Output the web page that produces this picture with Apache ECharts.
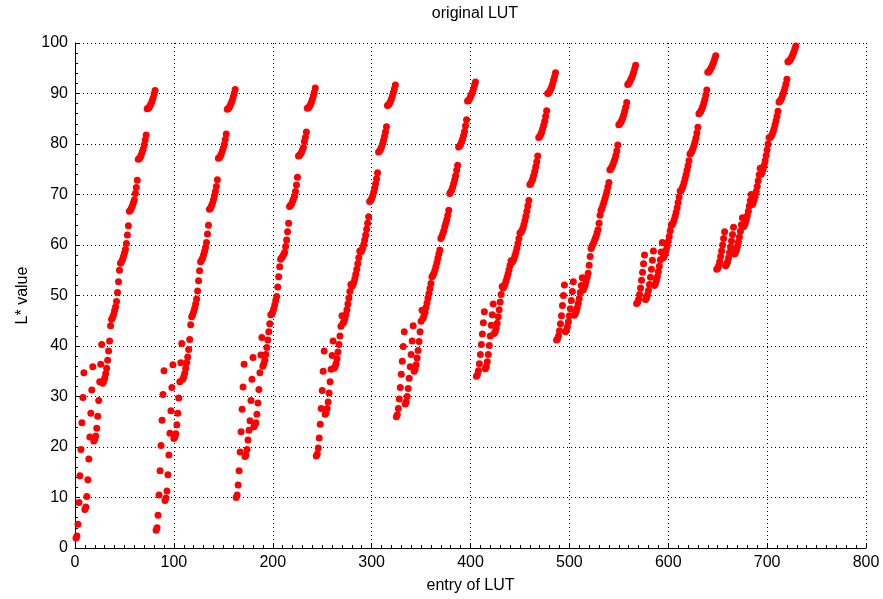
<!DOCTYPE html>
<html>
<head>
<meta charset="utf-8">
<title>original LUT</title>
<script src="https://cdn.jsdelivr.net/npm/echarts@6.0.0/dist/echarts.min.js"></script>
<style>
html,body{margin:0;padding:0;background:#fff;}
#chart{width:883px;height:599px;}
</style>
</head>
<body>
<div id="chart"></div>
<script>
'use strict';
// L*, one array per block of 81 LUT entries (9 rows of 9)
var block1 = [
  2.0, 2.4, 4.7, 9.0, 14.3, 19.5, 24.8, 29.8, 34.7,
  7.6, 8.1, 10.2, 13.5, 17.6, 22.0, 26.7, 31.3, 35.9,
  21.2, 21.6, 22.2, 23.7, 26.1, 29.2, 32.9, 36.4, 40.3,
  32.6, 33.0, 33.6, 34.5, 35.6, 37.2, 39.0, 41.0, 44.0,
  45.3, 45.7, 46.2, 47.0, 47.7, 48.8, 50.6, 52.7, 55.0,
  56.4, 56.7, 57.1, 57.7, 58.4, 59.1, 60.3, 62.0, 63.8,
  66.7, 66.9, 67.3, 67.7, 68.3, 68.9, 70.2, 71.4, 72.8,
  77.0, 77.1, 77.4, 77.8, 78.4, 79.0, 79.8, 80.8, 81.8,
  87.0, 87.1, 87.3, 87.6, 88.0, 88.5, 89.1, 89.9, 90.6
];
var block2 = [
  3.5, 4.0, 6.5, 10.5, 15.3, 20.3, 25.3, 30.4, 35.1,
  9.4, 9.9, 11.3, 14.5, 18.4, 22.7, 27.2, 31.8, 36.3,
  21.7, 22.0, 22.6, 24.4, 26.7, 29.7, 32.9, 36.7, 40.5,
  33.4, 33.9, 34.6, 35.6, 36.7, 37.8, 39.3, 41.3, 44.2,
  45.8, 46.2, 46.8, 47.5, 48.3, 49.3, 50.9, 52.9, 54.9,
  56.7, 57.0, 57.4, 58.0, 58.7, 59.5, 60.5, 62.2, 63.9,
  67.1, 67.3, 67.7, 68.2, 68.9, 69.7, 70.6, 71.6, 72.9,
  77.2, 77.3, 77.6, 78.0, 78.6, 79.2, 79.9, 80.9, 82.0,
  86.9, 87.0, 87.3, 87.6, 88.1, 88.6, 89.3, 90.0, 90.8
];
var block3 = [
  10.0, 10.5, 12.5, 15.3, 19.0, 23.0, 27.5, 31.9, 36.4,
  18.1, 18.4, 19.5, 21.4, 23.3, 25.2, 29.2, 33.4, 37.7,
  24.0, 24.4, 24.8, 26.5, 28.7, 31.4, 34.7, 38.2, 41.7,
  36.0, 36.5, 37.2, 38.3, 39.7, 41.2, 42.8, 44.4, 46.2,
  46.3, 46.8, 47.4, 48.1, 49.0, 49.8, 51.7, 53.7, 55.7,
  57.2, 57.5, 57.7, 58.1, 58.5, 59.7, 61.0, 62.6, 64.3,
  67.6, 67.8, 68.1, 68.6, 69.1, 69.6, 70.6, 71.9, 73.4,
  77.6, 77.7, 78.0, 78.3, 78.8, 79.3, 80.5, 81.3, 82.4,
  87.1, 87.2, 87.4, 87.7, 88.2, 88.8, 89.5, 90.2, 91.1
];
var block4 = [
  18.2, 18.6, 19.8, 21.8, 24.5, 27.6, 31.2, 35.0, 39.0,
  26.5, 26.8, 27.6, 28.9, 30.7, 32.9, 35.4, 38.1, 41.0,
  35.6, 35.9, 36.5, 37.5, 38.8, 40.3, 42.0, 43.9, 46.0,
  44.5, 44.8, 45.4, 46.2, 47.2, 48.3, 49.5, 50.8, 52.2,
  51.8, 52.1, 52.6, 53.3, 54.2, 55.2, 56.3, 57.5, 58.8,
  58.6, 58.9, 59.4, 60.1, 61.0, 62.0, 63.1, 64.3, 65.6,
  68.6, 68.8, 69.2, 69.7, 70.4, 71.2, 72.1, 73.1, 74.3,
  78.4, 78.6, 78.9, 79.4, 80.0, 80.7, 81.5, 82.4, 83.4,
  87.6, 87.7, 88.0, 88.4, 88.9, 89.5, 90.2, 90.9, 91.7
];
var block5 = [
  26.0, 26.4, 27.6, 29.5, 31.8, 34.4, 37.0, 39.9, 42.8,
  28.5, 28.9, 30.0, 31.6, 33.6, 35.9, 38.3, 41.0, 44.0,
  35.0, 35.4, 36.3, 37.6, 39.1, 40.9, 42.8, 44.9, 47.1,
  45.5, 46.0, 46.7, 47.6, 48.5, 49.5, 50.4, 51.4, 52.4,
  53.7, 54.0, 54.4, 55.0, 55.7, 56.5, 57.4, 58.2, 59.0,
  61.3, 61.7, 62.3, 62.8, 63.6, 64.3, 65.0, 65.9, 66.9,
  70.2, 70.5, 70.9, 71.5, 72.2, 72.9, 73.7, 74.8, 75.8,
  79.4, 79.6, 79.9, 80.4, 81.0, 81.7, 82.5, 83.6, 84.8,
  88.5, 88.6, 88.9, 89.3, 89.8, 90.3, 90.9, 91.6, 92.3
];
var block6 = [
  34.0, 34.3, 35.1, 36.5, 38.3, 40.3, 42.4, 44.6, 46.8,
  35.5, 35.9, 36.9, 38.3, 40.1, 42.0, 44.1, 46.2, 48.3,
  42.5, 42.8, 43.5, 44.5, 45.8, 47.2, 48.7, 50.2, 51.8,
  51.5, 51.8, 52.3, 52.9, 53.6, 54.3, 55.1, 56.0, 56.9,
  56.6, 56.9, 57.3, 57.9, 58.6, 59.4, 60.3, 61.3, 62.4,
  62.5, 62.8, 63.3, 64.0, 64.8, 65.7, 66.7, 67.7, 68.8,
  72.0, 72.2, 72.6, 73.1, 73.8, 74.6, 75.5, 76.5, 77.6,
  81.3, 81.5, 81.9, 82.4, 83.0, 83.7, 84.5, 85.5, 86.6,
  90.0, 90.1, 90.4, 90.8, 91.3, 91.9, 92.6, 93.3, 94.1
];
var block7 = [
  41.2, 41.4, 42.0, 43.0, 44.4, 46.0, 48.0, 50.0, 52.1,
  42.8, 43.1, 43.8, 44.8, 46.0, 47.4, 49.0, 50.8, 52.7,
  46.1, 46.4, 46.9, 47.6, 48.4, 49.4, 50.6, 52.0, 53.5,
  51.1, 51.6, 52.1, 52.8, 53.6, 54.4, 56.0, 57.7, 59.3,
  59.8, 60.2, 60.7, 61.2, 61.7, 62.4, 63.0, 64.3, 65.9,
  66.9, 67.3, 67.9, 68.5, 69.2, 69.9, 70.6, 71.5, 72.4,
  74.9, 75.1, 75.5, 75.9, 76.5, 77.0, 77.7, 78.6, 79.8,
  83.8, 84.0, 84.3, 84.7, 85.2, 85.8, 86.5, 87.3, 88.2,
  91.8, 92.0, 92.3, 92.7, 93.1, 93.6, 94.2, 94.9, 95.6
];
var block8 = [
  48.4, 48.6, 49.2, 50.2, 51.5, 53.0, 54.6, 56.3, 58.0,
  49.2, 49.5, 50.1, 51.0, 52.2, 53.6, 55.2, 57.0, 58.8,
  52.0, 52.3, 52.9, 53.7, 54.7, 55.8, 57.1, 58.6, 60.5,
  57.5, 57.8, 58.3, 59.0, 59.8, 60.7, 61.7, 62.8, 64.0,
  64.0, 64.4, 65.0, 65.7, 66.5, 67.4, 68.4, 69.5, 70.7,
  70.8, 71.2, 71.7, 72.4, 73.1, 73.9, 74.8, 75.7, 76.7,
  78.0, 78.2, 78.6, 79.1, 79.7, 80.4, 81.2, 82.2, 83.3,
  86.0, 86.2, 86.5, 87.0, 87.5, 88.1, 88.8, 89.7, 90.7,
  94.2, 94.3, 94.6, 94.9, 95.3, 95.8, 96.3, 96.9, 97.5
];
var block9 = [
  55.2, 55.4, 55.9, 56.7, 57.7, 58.8, 60.0, 61.3, 62.6,
  55.9, 56.2, 56.7, 57.5, 58.5, 59.6, 60.8, 62.1, 63.5,
  58.2, 58.5, 59.0, 59.7, 60.6, 61.6, 62.7, 64.0, 65.4,
  63.6, 63.9, 64.4, 65.0, 65.8, 66.7, 67.7, 68.8, 70.0,
  68.0, 68.4, 69.0, 69.7, 70.6, 71.6, 72.7, 73.9, 75.2,
  74.0, 74.4, 75.0, 75.8, 76.7, 77.7, 78.8, 80.0, 81.3,
  81.3, 81.5, 81.9, 82.4, 83.0, 83.8, 84.6, 85.5, 86.5,
  88.3, 88.5, 88.8, 89.2, 89.8, 90.4, 91.1, 91.9, 92.8,
  96.3, 96.4, 96.6, 96.9, 97.3, 97.7, 98.2, 98.8, 99.4
];

var blocks = [block1, block2, block3, block4, block5, block6, block7, block8, block9];
var FONT = '"Liberation Sans", Arial, Helvetica, sans-serif';

// entry numbers run 1..729 in the order of the blocks
var points = [];
blocks.forEach(function (b, i) {
  b.forEach(function (v, k) {
    points.push([i * 81 + k + 1, v]);
  });
});

var dots = {color: '#000', type: [1, 3], width: 1};

var chart = echarts.init(document.getElementById('chart'), null, {renderer: 'canvas'});
chart.setOption({
  animation: false,
  backgroundColor: '#fff',
  title: {
    text: 'original LUT',
    left: 470,
    top: 1,
    textAlign: 'center',
    textStyle: {color: '#000', fontSize: 16, fontWeight: 'normal', fontFamily: FONT}
  },
  grid: {left: 75, right: 17, top: 43, bottom: 51},
  xAxis: {
    type: 'value',
    min: 0,
    max: 800,
    interval: 100,
    name: 'entry of LUT',
    nameLocation: 'middle',
    nameGap: 30,
    nameTextStyle: {color: '#000', fontSize: 16, fontFamily: FONT},
    axisLine: {lineStyle: {color: '#000', width: 1}},
    axisTick: {inside: true, length: 5, lineStyle: {color: '#000'}},
    minorTick: {show: true, splitNumber: 10, length: 3, lineStyle: {color: '#000'}},
    axisLabel: {color: '#000', fontSize: 16, margin: 7, fontFamily: FONT},
    splitLine: {show: true, lineStyle: dots}
  },
  yAxis: {
    type: 'value',
    min: 0,
    max: 100,
    interval: 10,
    name: 'L* value',
    nameLocation: 'middle',
    nameGap: 42,
    nameTextStyle: {color: '#000', fontSize: 16, fontFamily: FONT},
    axisLine: {show: true, lineStyle: {color: '#000', width: 1}},
    axisTick: {show: true, inside: true, length: 5, lineStyle: {color: '#000'}},
    minorTick: {show: true, splitNumber: 5, length: 3, lineStyle: {color: '#000'}},
    axisLabel: {color: '#000', fontSize: 16, margin: 7, fontFamily: FONT},
    splitLine: {show: true, lineStyle: dots}
  },
  series: [{
    type: 'scatter',
    data: points,
    symbol: 'circle',
    symbolSize: 7,
    itemStyle: {color: '#ff0000', opacity: 1}
  }]
});
</script>
</body>
</html>
